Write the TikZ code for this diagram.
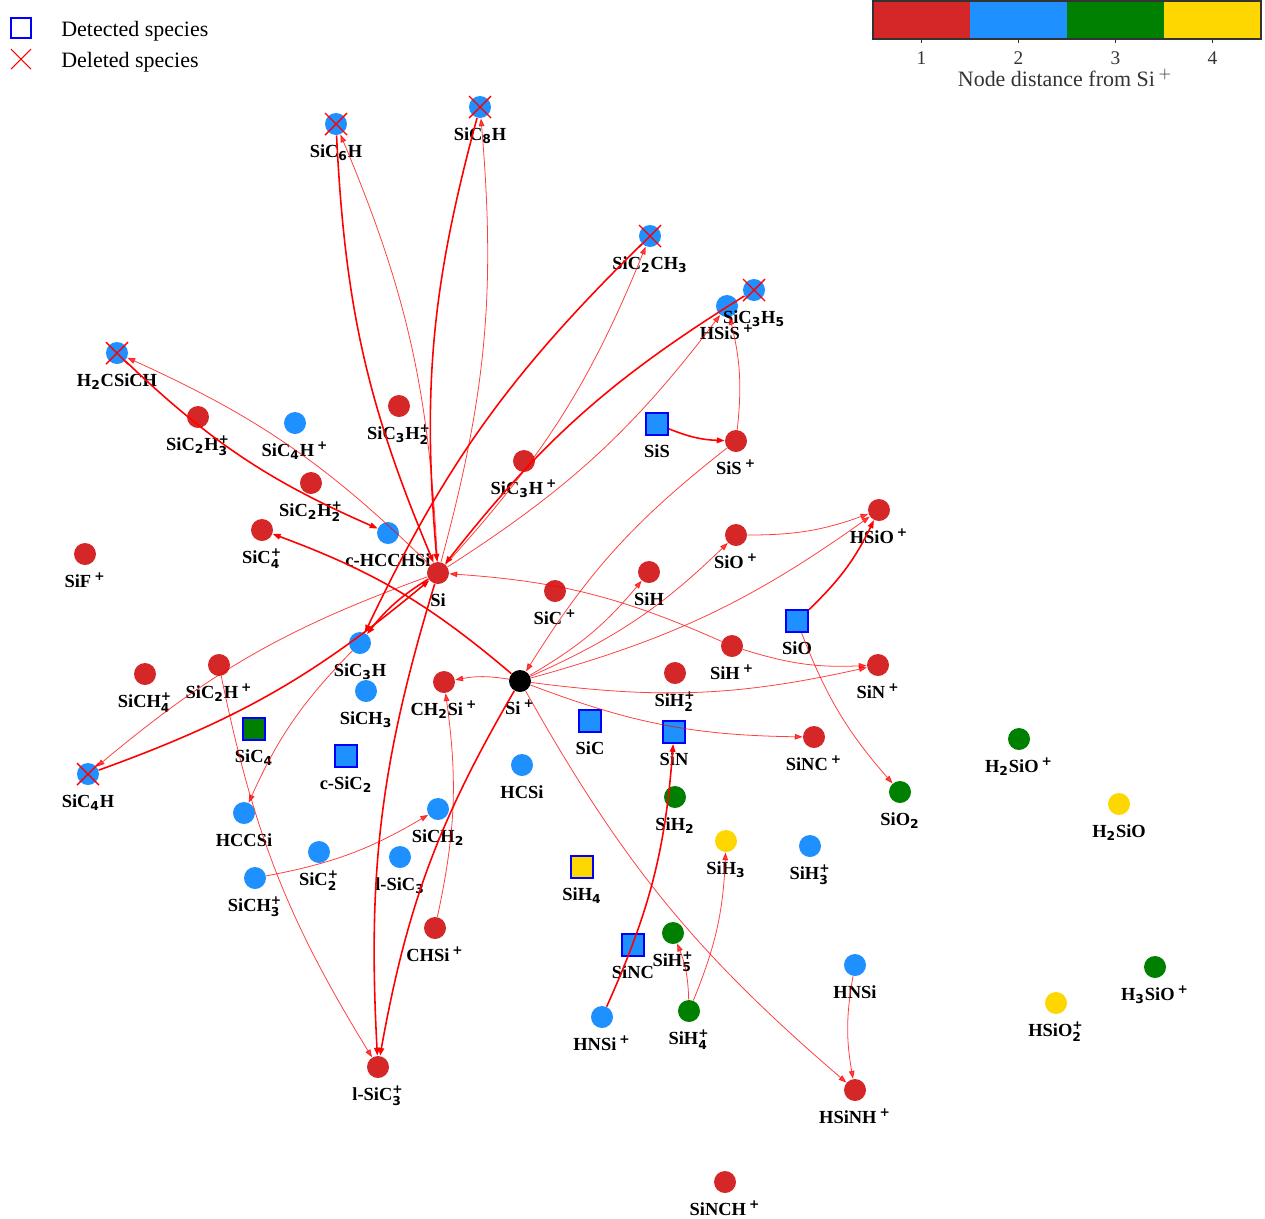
\documentclass[tikz,border=0pt]{standalone}
\usepackage{fontspec}
\setmainfont{Liberation Serif}
\newfontfamily\ssffam{DejaVu Sans}
\usetikzlibrary{arrows.meta}

\definecolor{c1}{HTML}{D62728}
\definecolor{c2}{HTML}{1E90FF}
\definecolor{c3}{HTML}{008000}
\definecolor{c4}{HTML}{FFD700}
\definecolor{detblue}{HTML}{0000FF}
\definecolor{axgray}{HTML}{333333}

\newcommand\ssf{\ssffam\bfseries\fontsize{7}{7}\selectfont}
\newcommand\nsub[1]{$_{\hbox{\ssf #1}}$}
\newcommand\ion{\,$^{\hbox{\ssf +}}$}
\newcommand\nsubion[1]{$_{\hbox{\ssf #1}}^{\hbox{\ssf +}}$}

\tikzset{
  sp/.style={circle, minimum size=0.44cm, inner sep=0pt},
  d0/.style={sp, fill=black},
  d1/.style={sp, fill=c1},
  d2/.style={sp, fill=c2},
  d3/.style={sp, fill=c3},
  d4/.style={sp, fill=c4},
  det/.style={rectangle, draw=detblue, line width=1.1pt},
  lab/.style={font=\fontsize{10.5}{12}\selectfont\bfseries, inner sep=0pt,
    text height=0.29cm, text depth=0.1cm},
  rxn/.style={red, opacity=0.75, line width=0.45pt,
    -{Triangle[length=4.5pt,width=3.2pt]}, bend right=10},
  rxnw/.style={rxn, opacity=1, line width=0.9pt},
  delx/.style={red, line width=0.8pt},
  leg/.style={font=\fontsize{12.5}{14}\selectfont, inner sep=0pt, anchor=base west}
}

\begin{document}
\begin{tikzpicture}[x=0.02cm, y=-0.02cm, label distance=0.14cm, every label/.style={lab}]
  \useasboundingbox (0,0) rectangle (1265,1218);

  % legend
  \node[draw=detblue, line width=0.6pt, minimum size=0.4cm, inner sep=0pt] (legdet) at (21,28) {};
  \node[leg] (legdettxt) at (61,36) {Detected species};
  \coordinate (legdel) at (21,59);
  \draw[red, line width=0.6pt] (legdel) ++(-10,-10) -- ++(20,20) ++(0,-20) -- ++(-20,20);
  \node[leg] (legdeltxt) at (61,67) {Deleted species};

  % colour bar
  \foreach \c [count=\i] in {c1,c2,c3,c4}
    \fill[\c] ({873+97*(\i-1)},1) rectangle ++(97,38);
  \draw[axgray, line width=0.6pt] (873,1) rectangle (1261,39);
  \foreach \i in {1,...,4}
    \draw[axgray, line width=0.5pt] ({824.5+97*\i},39) -- ++(0,4)
      node[below=1.5pt, font=\fontsize{11}{12}\selectfont, text=axgray] {\i};
  \node[font=\fontsize{12.5}{14}\selectfont, text=axgray, anchor=base] (cbtitle) at (1065,86)
    {Node distance from Si\,$^{+}$};

  % species
  \node[d2, label=below:SiC\nsub{6}H] (SiC6H) at (336,124) {};
  \node[d2, label=below:SiC\nsub{8}H] (SiC8H) at (480,107) {};
  \node[d2, label=below:SiC\nsub{2}CH\nsub{3}] (SiC2CH3) at (650,236) {};
  \node[d2, label=below:HSiS\ion] (HSiSp) at (727,306) {};
  \node[d2, label=below:SiC\nsub{3}H\nsub{5}] (SiC3H5) at (754,290) {};
  \node[d2, label=below:H\nsub{2}CSiCH] (H2CSiCH) at (117,353) {};
  \node[d1, label=below:SiC\nsub{2}H\nsubion{3}] (SiC2H3p) at (198,417) {};
  \node[d2, label=below:SiC\nsub{4}H\ion] (SiC4Hp) at (295,423) {};
  \node[d1, label=below:SiC\nsub{3}H\nsubion{2}] (SiC3H2p) at (399,406) {};
  \node[d2, det, label=below:SiS] (SiS) at (657,424) {};
  \node[d1, label=below:SiS\ion] (SiSp) at (736,441) {};
  \node[d1, label=below:SiC\nsub{3}H\ion] (SiC3Hp) at (524,461) {};
  \node[d1, label=below:SiC\nsub{2}H\nsubion{2}] (SiC2H2p) at (311,483) {};
  \node[d2, label=below:c-HCCHSi] (cHCCHSi) at (388,533) {};
  \node[d1, label=below:SiC\nsubion{4}] (SiC4p) at (262,530) {};
  \node[d1, label=below:SiF\ion] (SiFp) at (85,554) {};
  \node[d1, label=below:Si] (Si) at (438,573) {};
  \node[d1, label=below:HSiO\ion] (HSiOp) at (879,510) {};
  \node[d1, label=below:SiO\ion] (SiOp) at (736,535) {};
  \node[d1, label=below:SiH] (SiH) at (649,572) {};
  \node[d1, label=below:SiC\ion] (SiCp) at (555,591) {};
  \node[d2, det, label=below:SiO] (SiO) at (797,621) {};
  \node[d2, label=below:SiC\nsub{3}H] (SiC3H) at (360,643) {};
  \node[d1, label=below:SiH\ion] (SiHp) at (732,646) {};
  \node[d1, label=below:SiN\ion] (SiNp) at (878,665) {};
  \node[d1, label=below:SiCH\nsubion{4}] (SiCH4p) at (145,674) {};
  \node[d1, label=below:SiC\nsub{2}H\ion] (SiC2Hp) at (219,665) {};
  \node[d1, label=below:SiH\nsubion{2}] (SiH2p) at (675,673) {};
  \node[d0, label=below:Si\ion] (Sip) at (520,681) {};
  \node[d1, label=below:CH\nsub{2}Si\ion] (CH2Sip) at (444,682) {};
  \node[d2, label=below:SiCH\nsub{3}] (SiCH3) at (366,691) {};
  \node[d3, det, label=below:SiC\nsub{4}] (SiC4) at (254,729) {};
  \node[d2, det, label=below:SiC] (SiC) at (590,721) {};
  \node[d2, det, label=below:SiN] (SiN) at (674,732) {};
  \node[d1, label=below:SiNC\ion] (SiNCp) at (814,737) {};
  \node[d2, det, label=below:c-SiC\nsub{2}] (cSiC2) at (346,756) {};
  \node[d3, label=below:H\nsub{2}SiO\ion] (H2SiOp) at (1019,739) {};
  \node[d2, label=below:SiC\nsub{4}H] (SiC4H) at (88,774) {};
  \node[d2, label=below:HCSi] (HCSi) at (522,765) {};
  \node[d3, label=below:SiO\nsub{2}] (SiO2) at (900,792) {};
  \node[d4, label=below:H\nsub{2}SiO] (H2SiO) at (1119,804) {};
  \node[d3, label=below:SiH\nsub{2}] (SiH2) at (675,797) {};
  \node[d2, label=below:HCCSi] (HCCSi) at (244,813) {};
  \node[d2, label=below:SiCH\nsub{2}] (SiCH2) at (438,809) {};
  \node[d2, label=below:SiC\nsubion{2}] (SiC2p) at (319,852) {};
  \node[d2, label=below:l-SiC\nsub{3}] (lSiC3) at (400,857) {};
  \node[d4, label=below:SiH\nsub{3}] (SiH3) at (726,841) {};
  \node[d2, label=below:SiH\nsubion{3}] (SiH3p) at (810,846) {};
  \node[d2, label=below:SiCH\nsubion{3}] (SiCH3p) at (255,878) {};
  \node[d4, det, label=below:SiH\nsub{4}] (SiH4) at (582,867) {};
  \node[d1, label=below:CHSi\ion] (CHSip) at (435,928) {};
  \node[d2, det, label=below:SiNC] (SiNC) at (633,945) {};
  \node[d3, label=below:SiH\nsubion{5}] (SiH5p) at (673,933) {};
  \node[d2, label=below:HNSi] (HNSi) at (855,965) {};
  \node[d3, label=below:H\nsub{3}SiO\ion] (H3SiOp) at (1155,967) {};
  \node[d4, label=below:HSiO\nsubion{2}] (HSiO2p) at (1056,1003) {};
  \node[d2, label=below:HNSi\ion] (HNSip) at (602,1017) {};
  \node[d3, label=below:SiH\nsubion{4}] (SiH4p) at (689,1011) {};
  \node[d1, label=below:l-SiC\nsubion{3}] (lSiC3p) at (378,1067) {};
  \node[d1, label=below:HSiNH\ion] (HSiNHp) at (855,1090) {};
  \node[d1, label=below:SiNCH\ion] (SiNCHp) at (725,1182) {};

  % strong channels
  \draw[rxnw] (SiC6H) to (Si);
  \draw[rxnw] (SiC8H) to (Si);
  \draw[rxnw] (SiC2CH3) to (SiC3H);
  \draw[rxnw] (SiC3H5) to (Si);
  \draw[rxnw] (H2CSiCH) to (cHCCHSi);
  \draw[rxnw] (SiC4H) to (Si);
  \draw[rxnw] (Si) to (SiC3H);
  \draw[rxnw] (Si) to (lSiC3p);
  \draw[rxnw] (Sip) to (lSiC3p);
  \draw[rxnw] (Sip) to (SiC4p);
  \draw[rxnw] (SiO) to (HSiOp);
  \draw[rxnw] (SiS) to (SiSp);
  \draw[rxnw] (HNSip) to (SiN);

  % weak channels
  \foreach \a/\b in {Si/SiC6H, Si/SiC8H, Si/SiC2CH3, Si/H2CSiCH, Si/SiC4H, Si/HSiSp,
    SiHp/Si, SiHp/SiNp, Sip/CH2Sip, Sip/SiH, Sip/SiOp, Sip/HSiOp, Sip/SiNp,
    Sip/SiNCp, Sip/HSiNHp, SiSp/Sip, SiSp/HSiSp, SiOp/HSiOp, SiO/SiO2,
    CHSip/CH2Sip, SiCH3p/SiCH2, SiC2Hp/lSiC3p, SiC3H/HCCSi, SiH4p/SiH5p,
    SiH4p/SiH3, HNSi/HSiNHp}
    \draw[rxn] (\a) to (\b);

  % deleted species
  \foreach \n in {SiC6H,SiC8H,SiC2CH3,SiC3H5,H2CSiCH,SiC4H}
    \draw[delx] (\n.center) ++(-11,-11) -- ++(22,22) ++(0,-22) -- ++(-22,22);
\end{tikzpicture}
\end{document}
